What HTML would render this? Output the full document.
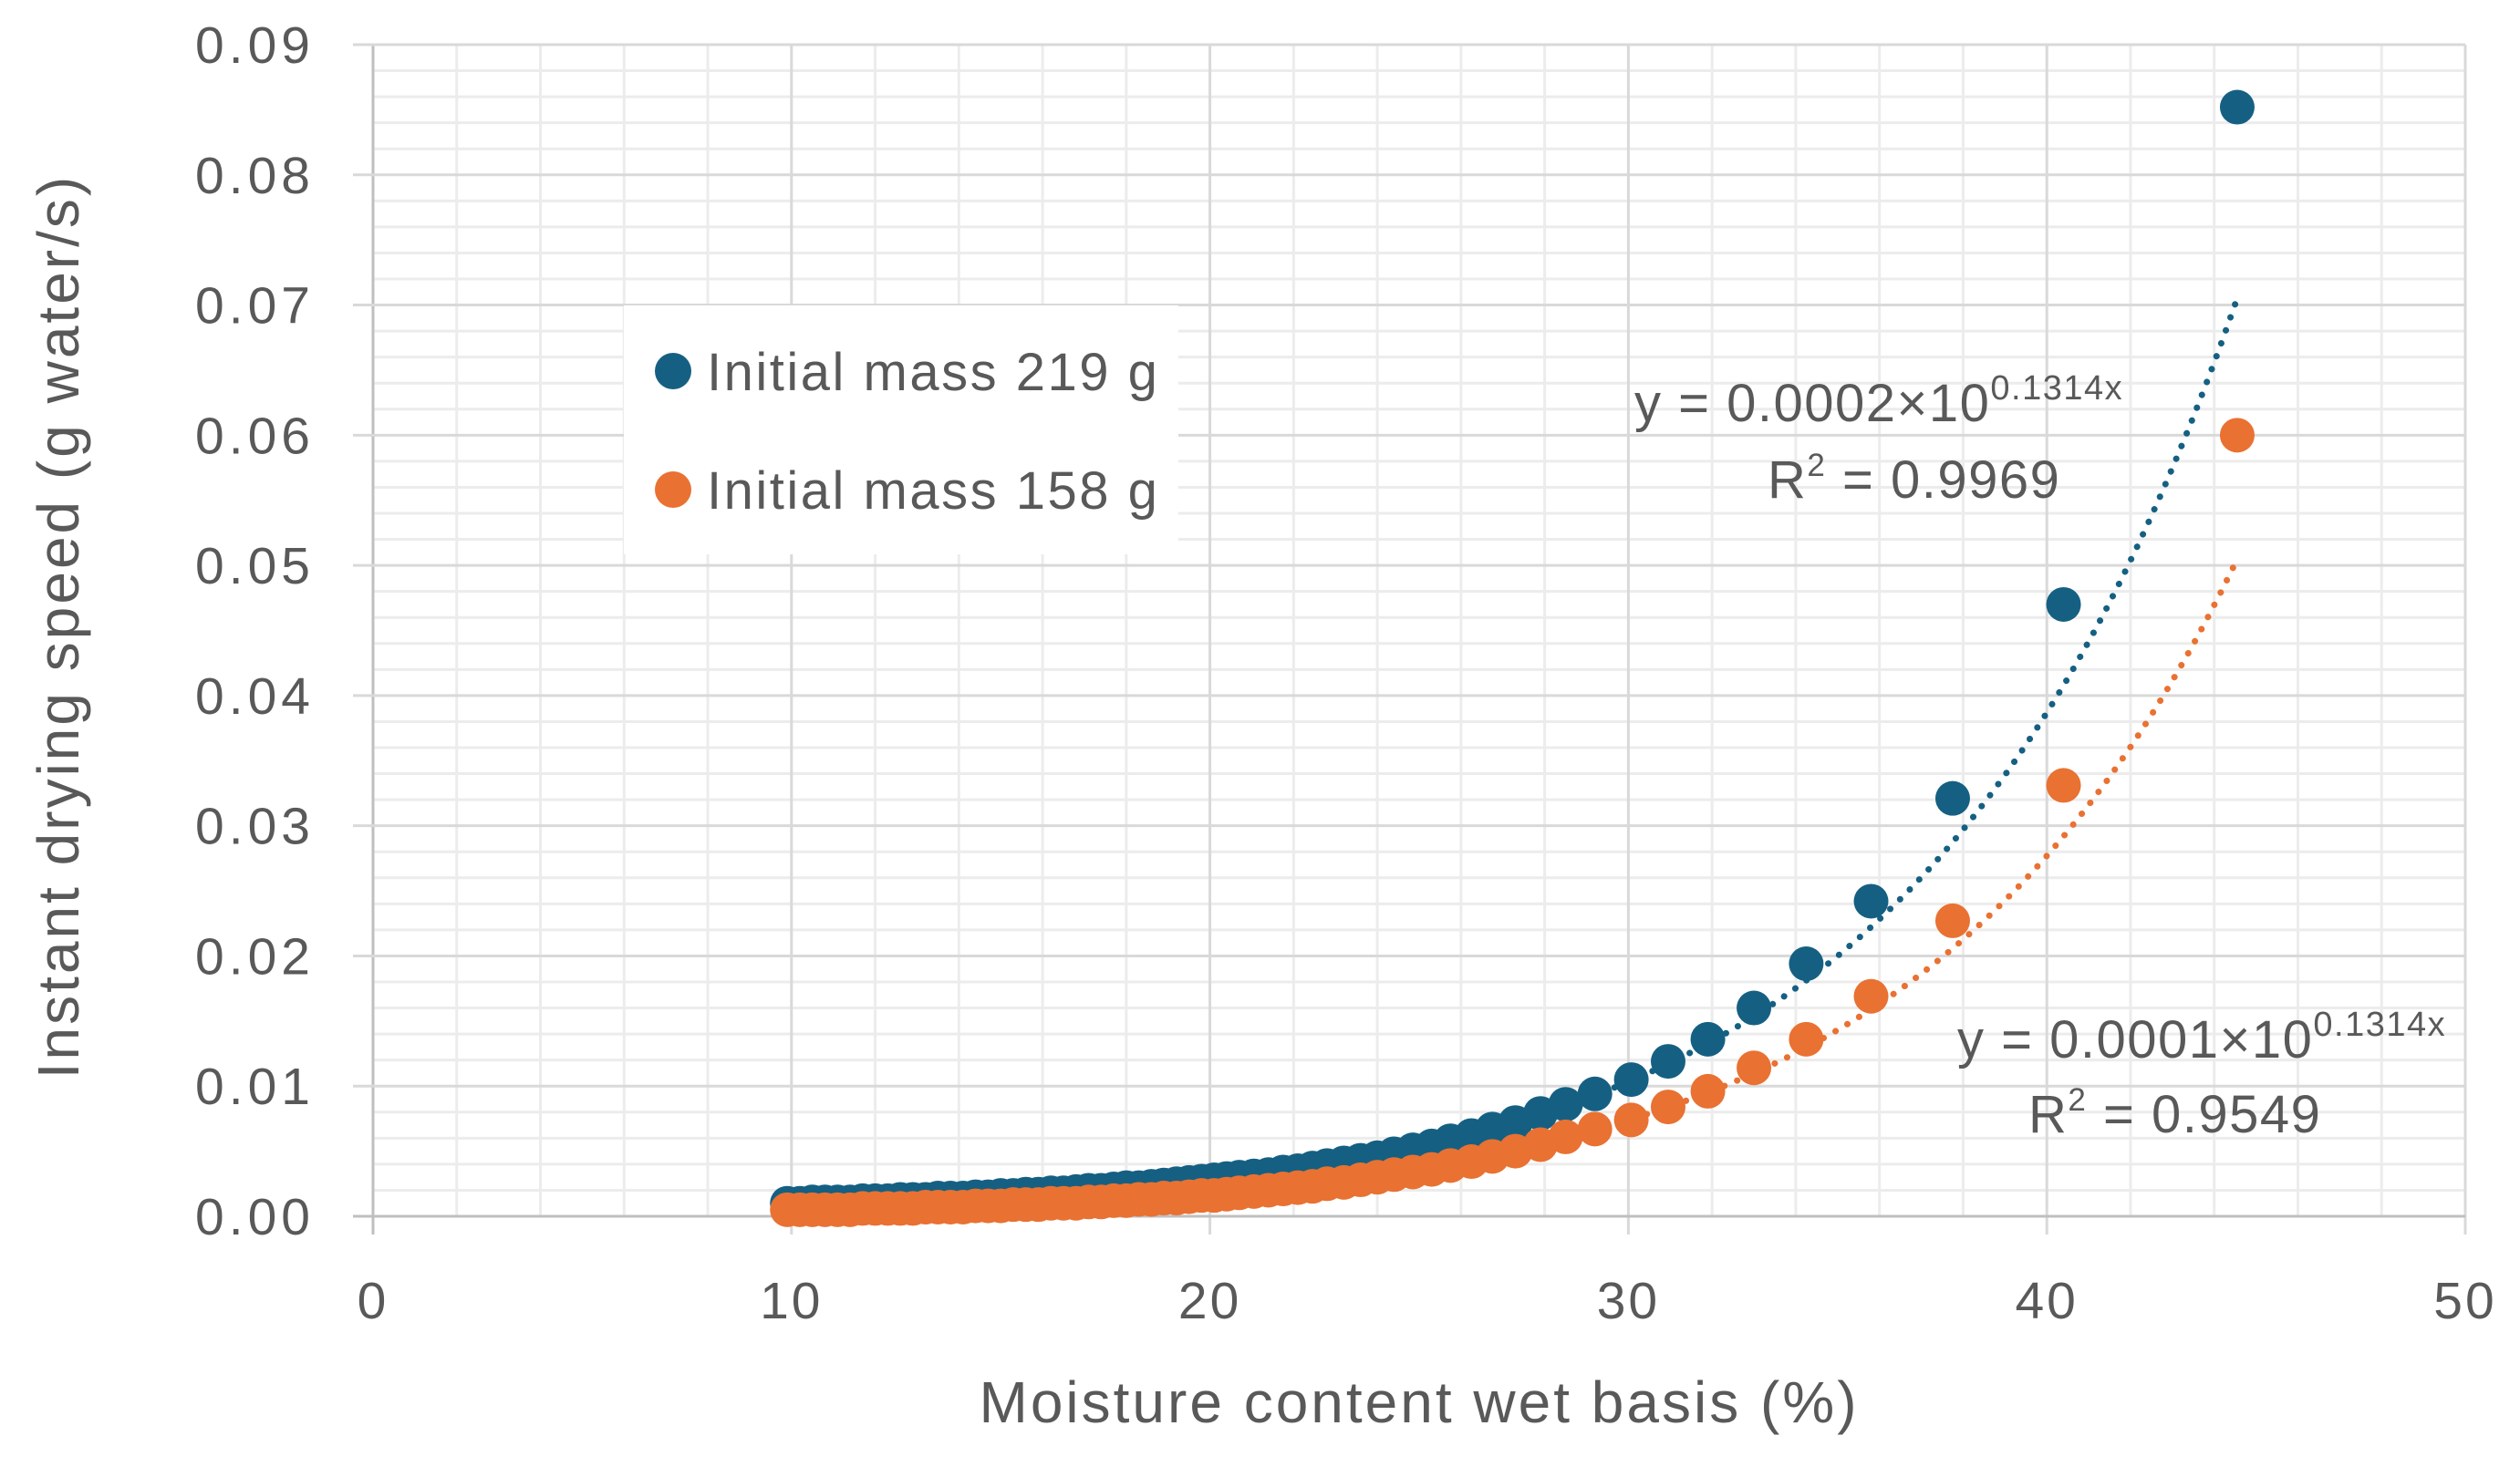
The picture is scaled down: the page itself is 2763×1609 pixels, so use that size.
<!DOCTYPE html>
<html><head><meta charset="utf-8"><style>
html,body{margin:0;padding:0;background:#fff;}
svg{display:block;font-family:"Liberation Sans",sans-serif;}
</style></head><body>
<svg id="chart" width="2763" height="1609" viewBox="0 0 2763 1609" xmlns="http://www.w3.org/2000/svg">
<rect width="2763" height="1609" fill="#fff"/>
<g id="grid"></g>
<g id="axes"></g>
<g id="trends"></g>
<g id="marks"></g>
<g>
<rect x="684" y="335" width="608" height="273" fill="#fff"/>
<g>
<circle cx="738" cy="407" r="20" fill="#156082"/>
<text x="775" y="428" font-size="58" letter-spacing="2.5" fill="#595959">Initial mass 219 g</text></g>
<g>
<circle cx="738" cy="537" r="20" fill="#e97132"/>
<text x="775" y="558" font-size="58" letter-spacing="2.5" fill="#595959">Initial mass 158 g</text></g>
</g>
<g fill="#595959">
<text x="1792" y="462" font-size="58" letter-spacing="1.5">y = 0.0002×10<tspan font-size="38" dy="-24">0.1314x</tspan></text>
<text x="1938" y="546" font-size="58" letter-spacing="1.5">R<tspan font-size="35" dy="-24">2</tspan><tspan dy="24"> = 0.9969</tspan></text>
</g>
<g fill="#595959">
<text x="2146" y="1160" font-size="58" letter-spacing="1.5">y = 0.0001×10<tspan font-size="38" dy="-24">0.1314x</tspan></text>
<text x="2224" y="1242" font-size="58" letter-spacing="1.5">R<tspan font-size="35" dy="-24">2</tspan><tspan dy="24"> = 0.9549</tspan></text>
</g>
<text x="1556" y="1560" font-size="64" letter-spacing="3" fill="#595959" text-anchor="middle">Moisture content wet basis (%)</text>
<text transform="translate(86,687) rotate(-90)" font-size="64" letter-spacing="3" fill="#595959" text-anchor="middle">Instant drying speed (g water/s)</text>
</svg>
<script>
const xTicks = [0, 10, 20, 30, 40, 50];
const yTicks = [0, 0.01, 0.02, 0.03, 0.04, 0.05, 0.06, 0.07, 0.08, 0.09];
const yTickLabels = ["0.00","0.01","0.02","0.03","0.04","0.05","0.06","0.07","0.08","0.09"];
const moisture = [44.55,40.4,37.75,35.8,34.25,33.0,31.9,30.95,30.07,29.2,28.5,27.9,27.3,26.75,26.25,25.75,25.3,24.85,24.4,24.0,23.6,23.2,22.8,22.45,22.1,21.75,21.4,21.05,20.7,20.4,20.1,19.8,19.5,19.2,18.9,18.6,18.3,18.0,17.7,17.4,17.1,16.8,16.5,16.2,15.9,15.6,15.3,15.0,14.7,14.4,14.1,13.8,13.5,13.2,12.9,12.6,12.3,12.0,11.7,11.4,11.1,10.8,10.5,10.2,9.9];
const speed219 = [0.0852,0.047,0.0321,0.0242,0.0194,0.016,0.0136,0.0119,0.0105,0.0094,0.0086,0.0079,0.0072,0.0067,0.0062,0.0058,0.0054,0.0051,0.0048,0.0045,0.0043,0.0041,0.0039,0.0037,0.0035,0.0034,0.0032,0.0031,0.0030,0.0029,0.0028,0.0027,0.0026,0.0025,0.0024,0.0023,0.0022,0.0022,0.0021,0.0020,0.0020,0.0019,0.0018,0.0018,0.0017,0.0017,0.0016,0.0016,0.0015,0.0015,0.0014,0.0014,0.0014,0.0013,0.0013,0.0013,0.0012,0.0012,0.0012,0.0011,0.0011,0.0011,0.0011,0.0010,0.0010];
const speed158 = [0.060,0.0331,0.0227,0.0169,0.0136,0.0114,0.0096,0.0084,0.0074,0.0067,0.0061,0.0055,0.0050,0.0046,0.0042,0.0039,0.0036,0.0034,0.0032,0.0030,0.0028,0.0026,0.0025,0.0023,0.0022,0.0021,0.0020,0.0019,0.0018,0.0017,0.0016,0.0016,0.0015,0.0014,0.0014,0.0013,0.0013,0.0012,0.0012,0.0011,0.0011,0.0010,0.0010,0.0010,0.0009,0.0009,0.0009,0.0008,0.0008,0.0008,0.0007,0.0007,0.0007,0.0007,0.0006,0.0006,0.0006,0.0006,0.0006,0.0005,0.0005,0.0005,0.0005,0.0005,0.0005];
const fit219 = [0.000197, 0.132];
const fit158 = [0.000141, 0.132];
const fitRange = [9.9, 44.55];

const NS = "http://www.w3.org/2000/svg";
const X0 = 409, X1 = 2703, Y0 = 1334, Y1 = 49;
const xs = v => X0 + (v - 0) / 50 * (X1 - X0);
const ys = v => Y0 - (v - 0) / 0.09 * (Y0 - Y1);
function mk(tag, attrs, parent) {
  const e = document.createElementNS(NS, tag);
  for (const k in attrs) e.setAttribute(k, attrs[k]);
  parent.appendChild(e);
  return e;
}
const grid = document.getElementById('grid');
const axes = document.getElementById('axes');
for (let i = 1; i < 25; i++) {
  if (i % 5 === 0) continue;
  const el = mk('line', {x1: xs(i*2), x2: xs(i*2), y1: Y1, y2: Y0, stroke: '#ececec', 'stroke-width': 3}, grid);
  
  
}
for (let i = 1; i < 45; i++) {
  if (i % 5 === 0) continue;
  const el = mk('line', {x1: X0, x2: X1, y1: ys(i*0.002), y2: ys(i*0.002), stroke: '#ececec', 'stroke-width': 3}, grid);
  
  
}
xTicks.forEach(t => {
  const el = mk('line', {x1: xs(t), x2: xs(t), y1: Y1, y2: Y0 + 20, stroke: t === 0 ? '#bfbfbf' : '#d9d9d9', 'stroke-width': 3}, grid);
  
  
  const tx = mk('text', {x: xs(t), y: 1446, 'font-size': 57, fill: '#595959', 'text-anchor': 'middle', 'letter-spacing': 3}, axes);
  tx.textContent = String(t);
  
  
});
yTicks.forEach((t, i) => {
  const el = mk('line', {x1: X0 - 22, x2: X1, y1: ys(t), y2: ys(t), stroke: t === 0 ? '#bfbfbf' : '#d9d9d9', 'stroke-width': 3}, grid);
  
  
  const tx = mk('text', {x: 345, y: ys(t) + 20, 'font-size': 57, fill: '#595959', 'text-anchor': 'end', 'letter-spacing': 5}, axes);
  tx.textContent = yTickLabels[i];
  
  
});
const trends = document.getElementById('trends');
function trend(fit, color, name) {
  let d = '';
  for (let i = 0; i <= 200; i++) {
    const x = fitRange[0] + (fitRange[1] - fitRange[0]) * i / 200;
    const y = fit[0] * Math.exp(fit[1] * x);
    d += (i ? 'L' : 'M') + xs(x).toFixed(1) + ',' + ys(y).toFixed(1);
  }
  const p = mk('path', {d: d, fill: 'none', stroke: color, 'stroke-width': 7, 'stroke-linecap': 'round', 'stroke-dasharray': '0.1 15'}, trends);
  
  
}
const marks = document.getElementById('marks');
function series(vals, color, name) {
  const g = mk('g', {fill: color}, marks);
  
  
  for (let i = vals.length - 1; i >= 0; i--) {
    const c = mk('circle', {cx: xs(moisture[i]), cy: ys(vals[i]), r: 19}, g);
    
    
  }
}
series(speed219, '#156082', 'series-219g');
series(speed158, '#e97132', 'series-158g');
trend(fit219, '#156082', 'trendline-219g');
trend(fit158, '#e97132', 'trendline-158g');
</script>
</body></html>
